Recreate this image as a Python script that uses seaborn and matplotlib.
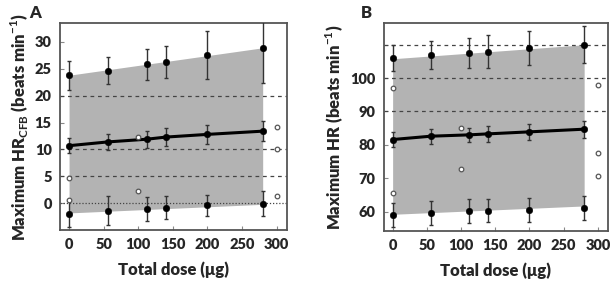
import numpy as np
import pandas as pd
import seaborn as sns
import matplotlib.pyplot as plt

# Dosisstufen (µg)
dose = [0, 56, 112, 140, 200, 280]

# Panel A: Maximum HR_CFB
a_hi = [23.8, 24.6, 25.8, 26.2, 27.6, 28.8]
a_hi_err = [2.7, 2.5, 2.8, 3.0, 4.5, 6.5]
a_mid = [10.7, 11.4, 11.9, 12.3, 12.8, 13.4]
a_mid_err = [1.4, 1.5, 1.6, 1.7, 1.8, 1.9]
a_lo = [-2.0, -1.4, -1.1, -0.8, -0.4, -0.1]
a_lo_err = [2.4, 2.7, 2.2, 2.2, 2.0, 2.3]
a_band_x = [0, 280]
a_band_hi = [23.8, 28.9]
a_band_lo = [-1.8, -0.2]
a_obs_x = [0, 0, 100, 100, 300, 300, 300]
a_obs_y = [4.7, 0.6, 2.2, 12.3, 14.1, 10.0, 1.3]

# Panel B: Maximum HR
b_hi = [106.0, 106.9, 107.5, 107.9, 109.0, 110.0]
b_hi_err = [4.0, 4.2, 4.5, 5.0, 5.0, 5.5]
b_mid = [81.6, 82.6, 83.0, 83.3, 83.9, 84.7]
b_mid_err = [2.3, 2.2, 2.2, 2.4, 2.5, 2.5]
b_lo = [59.0, 59.7, 60.1, 60.3, 60.6, 61.2]
b_lo_err = [3.5, 3.6, 3.6, 3.4, 3.6, 3.6]
b_band_x = [0, 280]
b_band_hi = [105.8, 110.0]
b_band_lo = [59.2, 61.7]
b_obs_x = [0, 0, 100, 100, 300, 300, 300]
b_obs_y = [97.0, 65.7, 85.0, 72.8, 98.0, 77.7, 70.7]

sns.set_style('ticks')
plt.rcParams['font.family'] = ['Lato', 'DejaVu Sans']
plt.rcParams['font.weight'] = 'heavy'
plt.rcParams['axes.labelweight'] = 'heavy'
plt.rcParams['mathtext.fontset'] = 'custom'
plt.rcParams['mathtext.rm'] = 'Lato:bold'
plt.rcParams['mathtext.bf'] = 'Lato:bold'

fig = plt.figure(figsize=(6.13, 2.81), dpi=100)
ax_a = fig.add_axes([0.098, 0.181, 0.370, 0.737])
ax_b = fig.add_axes([0.626, 0.178, 0.366, 0.740])


def draw_panel(ax, hi, hi_err, mid, mid_err, lo, lo_err,
               band_x, band_hi, band_lo, obs_x, obs_y):
    ax.fill_between(band_x, band_lo, band_hi, color='#b3b3b3', lw=0, zorder=1)
    for vals, errs in [(hi, hi_err), (mid, mid_err), (lo, lo_err)]:
        ax.errorbar(dose, vals, yerr=errs, fmt='none', ecolor='#333333',
                    elinewidth=1.0, capsize=1.5, capthick=1.0, zorder=3)
    df = pd.DataFrame({'dose': dose, 'mid': mid})
    sns.lineplot(data=df, x='dose', y='mid', color='black', lw=2.2, ax=ax, zorder=4)
    for vals in [hi, mid, lo]:
        sns.scatterplot(x=dose, y=vals, color='black', s=22, edgecolor='black',
                        ax=ax, zorder=5)
    sns.scatterplot(x=obs_x, y=obs_y, facecolor='white', edgecolor='#555555',
                    s=11, linewidth=0.9, ax=ax, zorder=5)
    ax.set_xlim(-13, 315)
    ax.set_xticks([0, 50, 100, 150, 200, 250, 300])
    ax.tick_params(direction='in', length=3, width=0.8, color='#888888',
                   labelsize=10.5, pad=6)
    for s in ax.spines.values():
        s.set_color('#555555')
        s.set_linewidth(1.3)
    ax.set_xlabel('Total dose (μg)', fontsize=12, labelpad=7)


draw_panel(ax_a, a_hi, a_hi_err, a_mid, a_mid_err, a_lo, a_lo_err,
           a_band_x, a_band_hi, a_band_lo, a_obs_x, a_obs_y)
ax_a.set_ylim(-5, 33.5)
ax_a.set_yticks([0, 5, 10, 15, 20, 25, 30])
for y in [5, 10, 20]:
    ax_a.axhline(y, color='#444444', ls=(0, (3, 3)), lw=0.9, zorder=2)
ax_a.axhline(0, color='#444444', ls=(0, (1, 1.5)), lw=0.9, zorder=2)
ax_a.set_ylabel('Maximum HR$_{\\mathrm{CFB}}$ (beats min$^{\\mathrm{-1}}$)',
                fontsize=12, labelpad=3)

draw_panel(ax_b, b_hi, b_hi_err, b_mid, b_mid_err, b_lo, b_lo_err,
           b_band_x, b_band_hi, b_band_lo, b_obs_x, b_obs_y)
ax_b.set_ylim(54.2, 116.5)
ax_b.set_yticks([60, 70, 80, 90, 100, 110])
ax_b.set_yticklabels(['60', '70', '80', '90', '100', ''])
for y in [90, 100, 110]:
    ax_b.axhline(y, color='#444444', ls=(0, (3, 3)), lw=0.9, zorder=2)
ax_b.set_ylabel('Maximum HR (beats min$^{\\mathrm{-1}}$)', fontsize=12, labelpad=3)

fig.text(0.057, 0.955, 'A', fontsize=12, fontweight='heavy', ha='center', va='center')
fig.text(0.597, 0.955, 'B', fontsize=12, fontweight='heavy', ha='center', va='center')

fig.savefig('out.png', dpi=100)
